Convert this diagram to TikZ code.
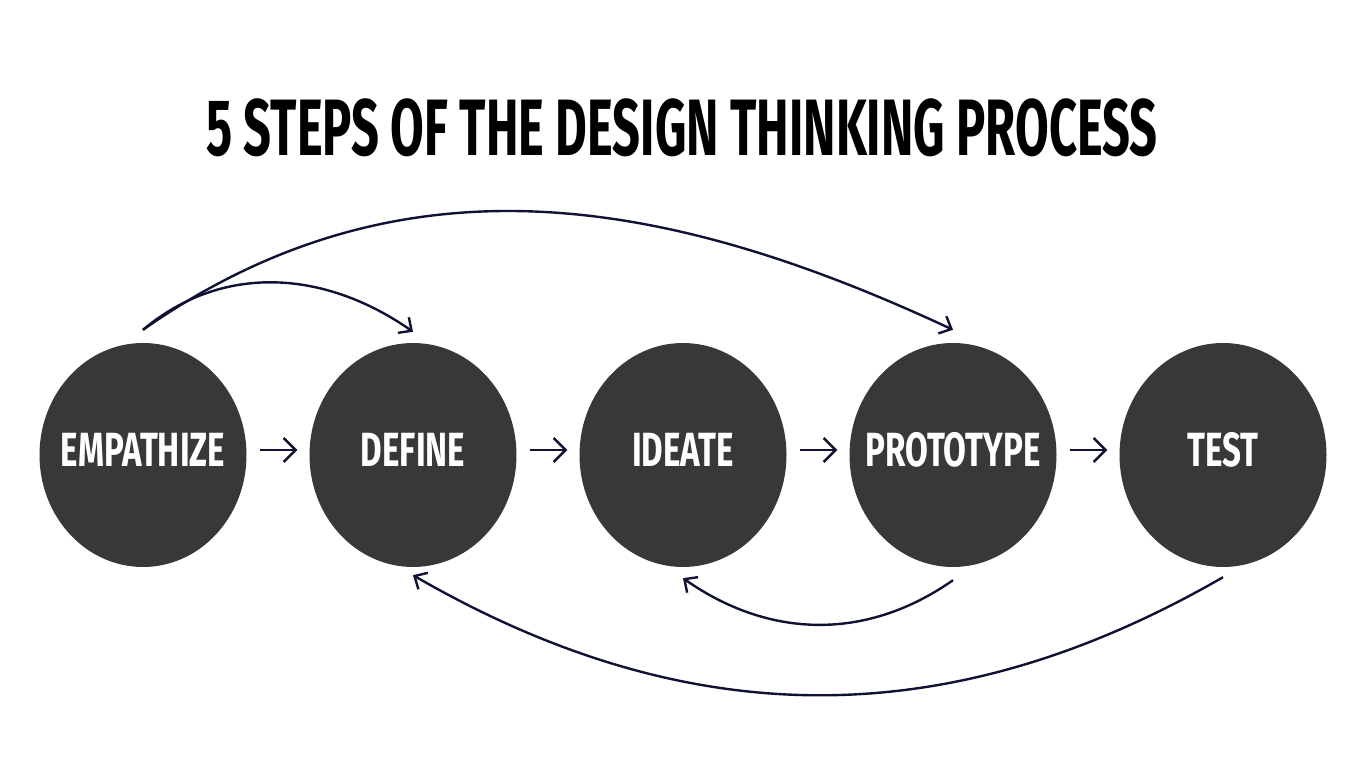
\documentclass[tikz,border=0pt]{standalone}
\usepackage{fontspec}
\usetikzlibrary{shapes.geometric,arrows.meta}
\newfontfamily\titlefont{Fira Sans}[FakeStretch=0.61]
\newfontfamily\stepfont{Fira Sans}[FakeStretch=0.69]
\definecolor{stepgray}{HTML}{383838}
\definecolor{inkblue}{HTML}{0F1233}
\tikzset{
  stepnode/.style={ellipse, fill=stepgray, minimum width=207pt,
    minimum height=224pt, inner sep=0pt},
  steplabel/.style={text=white, inner sep=0pt, yshift=5pt,
    font=\stepfont\bfseries\fontsize{48}{48}\selectfont},
  flow/.style={draw=inkblue, line width=2.4pt,
    -{Straight Barb[length=12pt,width=24pt,line width=2.4pt]}},
  loop/.style={draw=inkblue, line width=2.4pt,
    -{Straight Barb[length=10pt,width=19pt,line width=2.4pt]}}
}

\begin{document}
\begin{tikzpicture}[x=1pt,y=1pt]
\useasboundingbox (0,0) rectangle (1366,768);
\fill[white] (0,0) rectangle (1366,768);
\node[font=\titlefont\bfseries\fontsize{80}{80}\selectfont] (title) at (682,640) {5 STEPS OF THE DESIGN THINKING PROCESS};
% the five steps
\foreach \n/\t [count=\i from 0] in {emp/EMPATHIZE,def/DEFINE,idea/IDEATE,proto/PROTOTYPE,test/TEST}
  \node[stepnode, label={[steplabel]center:\t}] (\n) at (143+270*\i,313) {};
% straight arrows
\foreach \a/\b in {emp/def,def/idea,idea/proto,proto/test}
  \draw[flow, shorten <=13pt, shorten >=12pt] ([yshift=5pt]\a.east) -- ([yshift=5pt]\b.west);
% loops back and forth
\draw[loop] ([yshift=13pt]emp.north) to[out=40,in=145] ([yshift=11pt]def.north);
\draw[loop] ([yshift=13pt]emp.north) to[out=35,in=155] ([yshift=13pt]proto.north);
\draw[loop] ([yshift=-13pt]proto.south) to[out=-145,in=-35] ([yshift=-11pt]idea.south);
\draw[loop] ([yshift=-10pt]test.south) to[out=-150,in=-30] ([yshift=-8pt]def.south);
\end{tikzpicture}
\end{document}
